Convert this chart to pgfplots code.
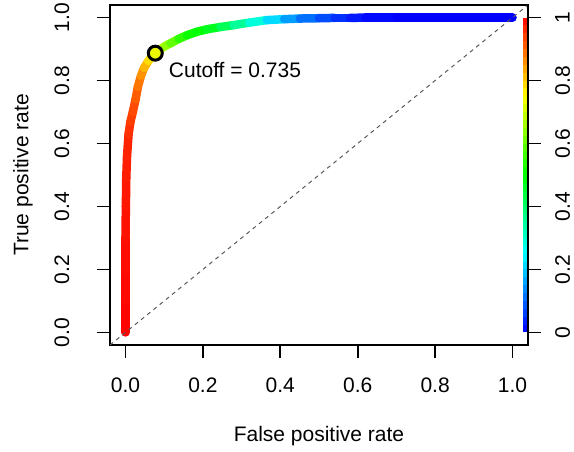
\documentclass[border=0pt]{standalone}
\usepackage{pgfplots}
\pgfplotsset{compat=1.18}
\usepackage{pgfplotstable}
\usepackage{fontspec}
\setmainfont{Liberation Sans}

\definecolor{cutc}{RGB}{235,250,0}

\pgfplotstableread{
fpr tpr c
0.000 0.000 1.000
0.000 0.100 0.995
0.000 0.200 0.990
0.000 0.300 0.985
0.001 0.400 0.980
0.002 0.490 0.975
0.004 0.560 0.970
0.008 0.630 0.960
0.013 0.670 0.945
0.019 0.700 0.935
0.026 0.740 0.920
0.032 0.780 0.900
0.040 0.815 0.870
0.048 0.840 0.845
0.059 0.862 0.800
0.068 0.876 0.765
0.077 0.887 0.735
0.090 0.900 0.700
0.103 0.910 0.660
0.116 0.918 0.625
0.137 0.932 0.570
0.159 0.944 0.520
0.185 0.955 0.500
0.211 0.963 0.490
0.245 0.970 0.450
0.279 0.976 0.380
0.320 0.984 0.320
0.365 0.992 0.250
0.410 0.995 0.180
0.451 0.997 0.130
0.500 0.998 0.090
0.540 0.999 0.060
0.580 0.999 0.035
0.620 1.000 0.015
0.700 1.000 0.000
1.000 1.000 0.000
}\roc

\pgfplotstableread{
x y
1.0325 0.000
1.0325 0.025
1.0325 0.050
1.0325 0.075
1.0325 0.100
1.0325 0.125
1.0325 0.150
1.0325 0.175
1.0325 0.200
1.0325 0.225
1.0325 0.250
1.0325 0.275
1.0325 0.300
1.0325 0.325
1.0325 0.350
1.0325 0.375
1.0325 0.400
1.0325 0.425
1.0325 0.450
1.0325 0.475
1.0325 0.500
1.0325 0.525
1.0325 0.550
1.0325 0.575
1.0325 0.600
1.0325 0.625
1.0325 0.650
1.0325 0.675
1.0325 0.700
1.0325 0.725
1.0325 0.750
1.0325 0.775
1.0325 0.800
1.0325 0.825
1.0325 0.850
1.0325 0.875
1.0325 0.900
1.0325 0.925
1.0325 0.950
1.0325 0.975
1.0325 1.000
}\cbar

\begin{document}
\begin{tikzpicture}
\useasboundingbox (-110bp,-107bp) rectangle (464bp,345bp);
\begin{axis}[
  at={(0,0)}, anchor=south west,
  scale only axis, width=418bp, height=340bp,
  xmin=-0.04, xmax=1.04, ymin=-0.04, ymax=1.04,
  axis line style={line width=1.6bp},
  every tick/.style={black, line width=1.6bp},
  major tick length=13bp, tick align=outside,
  xtick={0,0.2,0.4,0.6,0.8,1}, xticklabels={0.0,0.2,0.4,0.6,0.8,1.0},
  ytick={0,0.2,0.4,0.6,0.8,1}, yticklabels={0.0,0.2,0.4,0.6,0.8,1.0},
  xtick pos=bottom, ytick pos=left,
  tick label style={font=\fontsize{21bp}{25bp}\selectfont, inner sep=0pt},
  xticklabel style={anchor=north}, xticklabel shift=20bp,
  yticklabel style={rotate=90, anchor=south}, yticklabel shift=27.5bp,
  label style={font=\fontsize{21bp}{25bp}\selectfont, inner sep=0pt},
  xlabel={False positive rate},
  xlabel style={at={(axis description cs:0.5,-0.2676)}, anchor=center},
  ylabel={True positive rate},
  ylabel style={at={(axis description cs:-0.2081,0.5)}, anchor=center},
  colormap={rain}{rgb255=(0,0,255) rgb255=(0,255,255) rgb255=(0,255,0) rgb255=(255,255,0) rgb255=(255,0,0)},
  point meta min=0, point meta max=1,
]
\addplot[mesh, line width=8.5bp, line cap=round, line join=round, point meta=\thisrow{c}] table[x=fpr, y=tpr] {\roc};
\addplot[mesh, line width=4bp, line cap=butt, point meta=\thisrow{y}] table[x=x, y=y] {\cbar};
\addplot[black!65, line width=1bp, dash pattern=on 4bp off 4bp] coordinates {(-0.04,-0.04) (1.04,1.04)};
\addplot[only marks, mark=*, mark size=7bp, mark options={fill=cutc, draw=black, line width=3bp}] coordinates {(0.077,0.887)};
\node[anchor=west, inner sep=0pt, font=\fontsize{21bp}{25bp}\selectfont] at (axis cs:0.1117,0.8336) {Cutoff = 0.735};
\end{axis}
\begin{axis}[
  at={(0,0)}, anchor=south west,
  scale only axis, width=418bp, height=340bp,
  xmin=-0.04, xmax=1.04, ymin=-0.04, ymax=1.04,
  axis x line=none, axis y line*=right,
  axis line style={line width=1.6bp, -},
  every tick/.style={black, line width=1.6bp},
  major tick length=13bp, tick align=outside,
  ytick={0,0.2,0.4,0.6,0.8,1}, yticklabels={0,0.2,0.4,0.6,0.8,1},
  tick label style={font=\fontsize{21bp}{25bp}\selectfont, inner sep=0pt},
  yticklabel style={rotate=90, anchor=north}, yticklabel shift=14bp,
]
\end{axis}
\end{tikzpicture}
\end{document}
